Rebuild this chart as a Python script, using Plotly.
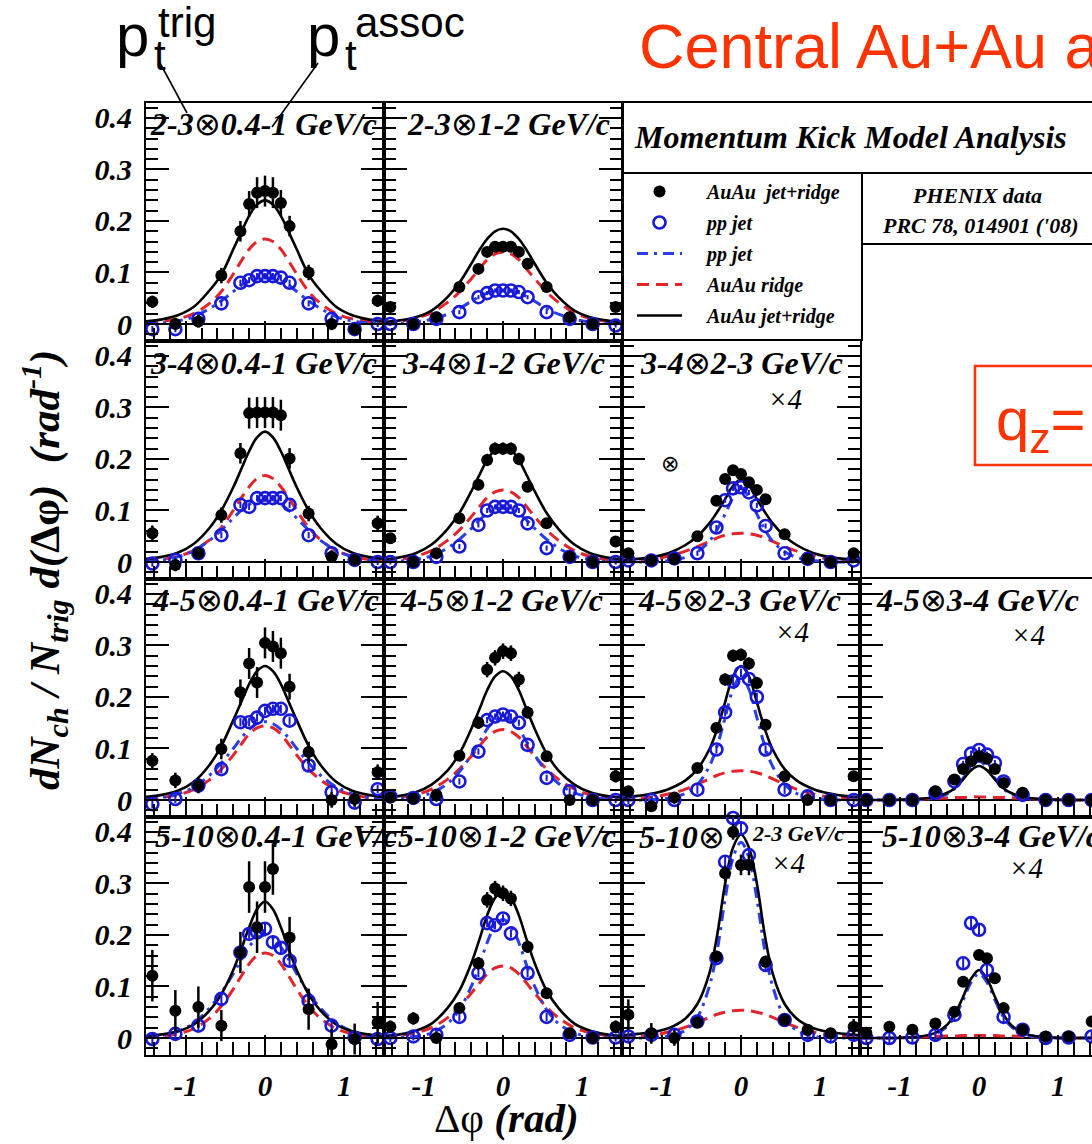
import plotly.graph_objects as go
from plotly.subplots import make_subplots

# ---------------- data ----------------
# delta-phi positions of the PHENIX points (rad)
DPHI_DATA = [-1.42, -1.13, -0.84, -0.55, -0.31, -0.2, -0.1, 0.0, 0.1, 0.2, 0.31, 0.55, 0.84, 1.13, 1.42]
# delta-phi positions where the model curves are sampled (rad)
DPHI_CURVE = [-1.5, -1.3, -1.1, -0.9, -0.7, -0.55, -0.4, -0.3, -0.2, -0.1, 0.0,
              0.1, 0.2, 0.3, 0.4, 0.55, 0.7, 0.9, 1.1, 1.3, 1.5]

OTIMES = "<span style=\"font-weight:normal;font-style:normal\">⊗</span>"
PANEL_LABELS = ["2-3{o}0.4-1 GeV/c", "2-3{o}1-2 GeV/c",
                "3-4{o}0.4-1 GeV/c", "3-4{o}1-2 GeV/c", "3-4{o}2-3 GeV/c",
                "4-5{o}0.4-1 GeV/c", "4-5{o}1-2 GeV/c", "4-5{o}2-3 GeV/c", "4-5{o}3-4 GeV/c",
                "5-10{o}0.4-1 GeV/c", "5-10{o}1-2 GeV/c", "5-10{o}", "5-10{o}3-4 GeV/c"]
SCALED_X4 = [False, False, False, False, True, False, False, True, True, False, False, True, True]

# AuAu jet+ridge data (black points) and errors
AUAU_1 = [0.043, 0.0, 0.005, 0.094, 0.18, 0.233, 0.255, 0.258, 0.255, 0.235, 0.19, 0.10, 0.0, -0.01, 0.045]
AUAU_2 = [0.033, 0.0, 0.013, 0.072, 0.107, 0.14, 0.15, 0.15, 0.15, 0.14, 0.117, 0.072, 0.013, 0.0, 0.033]
AUAU_3 = [0.056, -0.006, 0.017, 0.091, 0.211, 0.289, 0.29, 0.29, 0.29, 0.285, 0.201, 0.094, 0.01, 0.004, 0.075]
AUAU_4 = [0.046, 0.0, 0.017, 0.085, 0.15, 0.198, 0.22, 0.22, 0.22, 0.2, 0.146, 0.075, 0.01, 0.0, 0.04]
AUAU_5 = [0.017, 0.003, 0.006, 0.05, 0.119, 0.161, 0.178, 0.171, 0.155, 0.14, 0.122, 0.054, 0.006, 0.0, 0.017]
AUAU_6 = [0.076, 0.038, 0.028, 0.099, 0.209, 0.265, 0.228, 0.305, 0.298, 0.285, 0.22, 0.093, 0.0, 0.002, 0.054]
AUAU_7 = [0.005, 0.003, 0.01, 0.086, 0.15, 0.253, 0.276, 0.289, 0.285, 0.234, 0.17, 0.085, 0.0, 0.0, 0.046]
AUAU_8 = [0.017, -0.012, 0.005, 0.062, 0.14, 0.234, 0.28, 0.282, 0.265, 0.227, 0.146, 0.046, 0.0, 0.0, 0.046]
AUAU_9 = [0.0, 0.0, 0.0, 0.017, 0.04, 0.06, 0.075, 0.085, 0.08, 0.06, 0.033, 0.014, 0.0, 0.0, 0.0]
AUAU_10 = [0.121, 0.053, 0.06, 0.024, 0.166, 0.293, 0.215, 0.293, 0.328, None, 0.195, 0.056, -0.012, -0.002, 0.03]
AUAU_11 = [0.022, 0.038, 0.0, 0.058, 0.145, 0.268, 0.29, 0.281, 0.271, None, 0.177, 0.087, 0.009, 0.0, 0.022]
AUAU_12 = [0.045, 0.009, 0.0, 0.03, 0.158, 0.32, 0.4, 0.336, 0.336, None, 0.148, 0.035, 0.016, 0.009, 0.022]
AUAU_13 = [0.01, 0.022, 0.016, 0.028, 0.051, 0.109, None, 0.161, 0.155, 0.116, 0.058, 0.016, 0.003, 0.003, 0.032]

AUAU_ERR_1 = [0.012, 0.01, 0.012, 0.015, 0.02, 0.025, 0.03, 0.03, 0.03, 0.025, 0.02, 0.015, 0.012, 0.01, 0.012]
AUAU_ERR_2 = [0.008, 0.006, 0.006, 0.008, 0.008, 0.01, 0.01, 0.01, 0.01, 0.01, 0.008, 0.008, 0.006, 0.006, 0.008]
AUAU_ERR_3 = [0.015, 0.012, 0.012, 0.015, 0.02, 0.03, 0.03, 0.03, 0.03, 0.03, 0.02, 0.015, 0.012, 0.012, 0.015]
AUAU_ERR_4 = [0.01, 0.006, 0.006, 0.008, 0.01, 0.012, 0.012, 0.012, 0.012, 0.012, 0.01, 0.008, 0.006, 0.006, 0.01]
AUAU_ERR_5 = [0.006, 0.004, 0.004, 0.005, 0.006, 0.008, 0.008, 0.008, 0.008, 0.008, 0.006, 0.005, 0.004, 0.004, 0.006]
AUAU_ERR_6 = [0.015, 0.015, 0.015, 0.02, 0.025, 0.03, 0.03, 0.03, 0.03, 0.03, 0.025, 0.02, 0.015, 0.015, 0.015]
AUAU_ERR_7 = [0.01, 0.008, 0.008, 0.01, 0.012, 0.015, 0.015, 0.015, 0.015, 0.015, 0.012, 0.01, 0.008, 0.008, 0.012]
AUAU_ERR_8 = [0.008, 0.008, 0.006, 0.008, 0.01, 0.012, 0.012, 0.012, 0.012, 0.012, 0.01, 0.008, 0.006, 0.008, 0.01]
AUAU_ERR_9 = [0.004, 0.004, 0.004, 0.004, 0.005, 0.006, 0.006, 0.006, 0.006, 0.006, 0.005, 0.004, 0.004, 0.004, 0.004]
AUAU_ERR_10 = [0.05, 0.04, 0.04, 0.03, 0.04, 0.05, 0.05, 0.05, 0.05, 0.05, 0.04, 0.04, 0.03, 0.03, 0.04]
AUAU_ERR_11 = [0.012, 0.012, 0.01, 0.01, 0.012, 0.015, 0.015, 0.015, 0.015, 0.015, 0.012, 0.01, 0.01, 0.01, 0.012]
AUAU_ERR_12 = [0.03, 0.02, 0.015, 0.01, 0.01, 0.015, 0.015, 0.02, 0.02, 0.02, 0.01, 0.01, 0.01, 0.01, 0.015]
AUAU_ERR_13 = [0.008, 0.008, 0.006, 0.006, 0.006, 0.008, 0.008, 0.008, 0.008, 0.008, 0.006, 0.006, 0.006, 0.006, 0.008]

# pp jet data (blue open circles)
PP_1 = [-0.01, -0.01, 0.01, 0.04, 0.08, 0.085, 0.093, 0.093, 0.093, 0.09, 0.08, 0.04, 0.01, -0.01, 0.0]
PP_2 = [0.0, 0.0, 0.01, 0.023, 0.052, 0.06, 0.065, 0.065, 0.065, 0.062, 0.052, 0.023, 0.01, 0.0, -0.003]
PP_3 = [-0.003, 0.004, 0.017, 0.052, 0.111, 0.107, 0.124, 0.124, 0.124, 0.124, 0.111, 0.052, 0.017, 0.004, 0.0]
PP_4 = [0.0, 0.0, 0.01, 0.03, 0.072, 0.1, 0.107, 0.107, 0.107, 0.1, 0.075, 0.027, 0.01, 0.0, 0.0]
PP_5 = [0.003, 0.003, 0.007, 0.017, 0.067, 0.12, 0.143, 0.145, 0.135, 0.11, 0.07, 0.017, 0.006, 0.0, 0.003]
PP_6 = [-0.008, 0.002, 0.028, 0.06, 0.151, 0.151, 0.16, 0.173, 0.177, 0.177, 0.154, 0.067, 0.015, -0.005, 0.021]
PP_7 = [0.007, 0.004, 0.002, 0.036, 0.094, 0.155, 0.162, 0.166, 0.162, 0.15, 0.107, 0.043, 0.017, 0.0, 0.0]
PP_8 = [0.0, 0.0, 0.0, 0.02, 0.098, 0.17, 0.23, 0.247, 0.235, 0.2, 0.098, 0.02, 0.007, 0.0, 0.0]
PP_9 = [0.0, 0.0, 0.0, 0.014, 0.036, 0.07, 0.09, 0.097, 0.088, 0.072, 0.036, 0.01, 0.0, 0.0, 0.0]
PP_10 = [-0.002, 0.008, 0.024, 0.076, 0.166, 0.202, 0.205, 0.212, 0.186, 0.175, 0.15, 0.072, 0.024, 0.001, -0.002]
PP_11 = [0.0, 0.003, 0.006, 0.041, 0.126, 0.223, 0.219, 0.232, 0.203, None, 0.126, 0.041, 0.006, 0.001, 0.001]
PP_12 = [0.003, 0.006, 0.006, 0.032, 0.155, 0.342, 0.427, 0.407, 0.355, None, 0.142, 0.035, 0.006, 0.003, 0.006]
PP_13 = [0.0, 0.0, 0.001, 0.006, 0.045, 0.145, 0.223, 0.21, 0.132, None, 0.041, 0.016, 0.0, 0.001, 0.003]
PP_ERR = [0.006, 0.004, 0.006, 0.005, 0.005, 0.008, 0.006, 0.008, 0.006, 0.01, 0.008, 0.012, 0.01]

# model curves: AuAu jet+ridge (black), AuAu ridge (red), pp jet (blue)
JR_1 = [0.005, 0.009, 0.017, 0.033, 0.065, 0.096, 0.145, 0.178, 0.21, 0.232, 0.24, 0.232, 0.21, 0.178, 0.145, 0.096, 0.065, 0.033, 0.017, 0.009, 0.005]
RIDGE_1 = [0.002, 0.005, 0.01, 0.02, 0.04, 0.063, 0.097, 0.122, 0.145, 0.16, 0.165, 0.16, 0.145, 0.122, 0.097, 0.063, 0.04, 0.02, 0.01, 0.005, 0.002]
JET_1 = [0.0, 0.002, 0.006, 0.014, 0.03, 0.045, 0.063, 0.075, 0.083, 0.088, 0.09, 0.088, 0.083, 0.075, 0.063, 0.045, 0.03, 0.014, 0.006, 0.002, 0.0]

JR_2 = [0.004, 0.007, 0.013, 0.026, 0.052, 0.08, 0.117, 0.143, 0.165, 0.18, 0.185, 0.18, 0.165, 0.143, 0.117, 0.08, 0.052, 0.026, 0.013, 0.007, 0.004]
RIDGE_2 = [0.002, 0.005, 0.011, 0.022, 0.042, 0.062, 0.088, 0.106, 0.125, 0.136, 0.14, 0.136, 0.125, 0.106, 0.088, 0.062, 0.042, 0.022, 0.011, 0.005, 0.002]
JET_2 = [0.0, 0.001, 0.004, 0.009, 0.019, 0.03, 0.044, 0.053, 0.06, 0.064, 0.065, 0.064, 0.06, 0.053, 0.044, 0.03, 0.019, 0.009, 0.004, 0.001, 0.0]

JR_3 = [0.006, 0.01, 0.018, 0.035, 0.066, 0.1, 0.145, 0.18, 0.215, 0.242, 0.253, 0.242, 0.215, 0.18, 0.145, 0.1, 0.066, 0.035, 0.018, 0.01, 0.006]
RIDGE_3 = [0.002, 0.005, 0.011, 0.022, 0.043, 0.067, 0.1, 0.124, 0.146, 0.162, 0.168, 0.162, 0.146, 0.124, 0.1, 0.067, 0.043, 0.022, 0.011, 0.005, 0.002]
JET_3 = [0.002, 0.004, 0.01, 0.022, 0.042, 0.062, 0.085, 0.1, 0.112, 0.118, 0.12, 0.118, 0.112, 0.1, 0.085, 0.062, 0.042, 0.022, 0.01, 0.004, 0.002]

JR_4 = [0.005, 0.009, 0.017, 0.034, 0.064, 0.095, 0.137, 0.168, 0.198, 0.218, 0.225, 0.218, 0.198, 0.168, 0.137, 0.095, 0.064, 0.034, 0.017, 0.009, 0.005]
RIDGE_4 = [0.002, 0.005, 0.011, 0.022, 0.042, 0.062, 0.088, 0.107, 0.125, 0.136, 0.14, 0.136, 0.125, 0.107, 0.088, 0.062, 0.042, 0.022, 0.011, 0.005, 0.002]
JET_4 = [0.0, 0.002, 0.005, 0.012, 0.027, 0.044, 0.065, 0.081, 0.094, 0.102, 0.105, 0.102, 0.094, 0.081, 0.065, 0.044, 0.027, 0.012, 0.005, 0.002, 0.0]

JR_5 = [0.004, 0.006, 0.01, 0.018, 0.033, 0.05, 0.075, 0.097, 0.122, 0.148, 0.16, 0.148, 0.122, 0.097, 0.075, 0.05, 0.033, 0.018, 0.01, 0.006, 0.004]
RIDGE_5 = [0.001, 0.003, 0.006, 0.012, 0.021, 0.03, 0.04, 0.047, 0.052, 0.055, 0.056, 0.055, 0.052, 0.047, 0.04, 0.03, 0.021, 0.012, 0.006, 0.003, 0.001]
JET_5 = [0.0, 0.0, 0.001, 0.003, 0.009, 0.02, 0.04, 0.063, 0.093, 0.125, 0.145, 0.125, 0.093, 0.063, 0.04, 0.02, 0.009, 0.003, 0.001, 0.0, 0.0]

JR_6 = [0.006, 0.01, 0.018, 0.035, 0.068, 0.105, 0.155, 0.19, 0.225, 0.25, 0.26, 0.25, 0.225, 0.19, 0.155, 0.105, 0.068, 0.035, 0.018, 0.01, 0.006]
RIDGE_6 = [0.002, 0.005, 0.01, 0.02, 0.039, 0.06, 0.087, 0.108, 0.128, 0.14, 0.144, 0.14, 0.128, 0.108, 0.087, 0.06, 0.039, 0.02, 0.01, 0.005, 0.002]
JET_6 = [0.002, 0.005, 0.012, 0.025, 0.048, 0.072, 0.1, 0.12, 0.137, 0.148, 0.152, 0.148, 0.137, 0.12, 0.1, 0.072, 0.048, 0.025, 0.012, 0.005, 0.002]

JR_7 = [0.005, 0.008, 0.015, 0.03, 0.057, 0.09, 0.138, 0.175, 0.213, 0.24, 0.25, 0.24, 0.213, 0.175, 0.138, 0.09, 0.057, 0.03, 0.015, 0.008, 0.005]
RIDGE_7 = [0.002, 0.005, 0.01, 0.021, 0.04, 0.06, 0.085, 0.104, 0.122, 0.133, 0.137, 0.133, 0.122, 0.104, 0.085, 0.06, 0.04, 0.021, 0.01, 0.005, 0.002]
JET_7 = [0.0, 0.002, 0.006, 0.014, 0.032, 0.055, 0.087, 0.112, 0.138, 0.155, 0.16, 0.155, 0.138, 0.112, 0.087, 0.055, 0.032, 0.014, 0.006, 0.002, 0.0]

JR_8 = [0.005, 0.008, 0.013, 0.022, 0.038, 0.06, 0.098, 0.138, 0.19, 0.24, 0.26, 0.24, 0.19, 0.138, 0.098, 0.06, 0.038, 0.022, 0.013, 0.008, 0.005]
RIDGE_8 = [0.001, 0.003, 0.006, 0.012, 0.021, 0.031, 0.041, 0.048, 0.053, 0.056, 0.057, 0.056, 0.053, 0.048, 0.041, 0.031, 0.021, 0.012, 0.006, 0.003, 0.001]
JET_8 = [0.0, 0.0, 0.001, 0.004, 0.013, 0.03, 0.065, 0.105, 0.16, 0.215, 0.24, 0.215, 0.16, 0.105, 0.065, 0.03, 0.013, 0.004, 0.001, 0.0, 0.0]

JR_9 = [0.0, 0.0, 0.0, 0.001, 0.003, 0.006, 0.014, 0.024, 0.04, 0.058, 0.066, 0.058, 0.04, 0.024, 0.014, 0.006, 0.003, 0.001, 0.0, 0.0, 0.0]
RIDGE_9 = [0.0, 0.0, 0.0, 0.001, 0.002, 0.003, 0.004, 0.005, 0.005, 0.006, 0.006, 0.006, 0.005, 0.005, 0.004, 0.003, 0.002, 0.001, 0.0, 0.0, 0.0]
JET_9 = [0.0, 0.0, 0.0, 0.0, 0.001, 0.004, 0.012, 0.023, 0.042, 0.064, 0.075, 0.064, 0.042, 0.023, 0.012, 0.004, 0.001, 0.0, 0.0, 0.0, 0.0]

JR_10 = [0.004, 0.007, 0.013, 0.026, 0.053, 0.085, 0.132, 0.172, 0.215, 0.25, 0.265, 0.25, 0.215, 0.172, 0.132, 0.085, 0.053, 0.026, 0.013, 0.007, 0.004]
RIDGE_10 = [0.001, 0.004, 0.008, 0.018, 0.038, 0.062, 0.095, 0.12, 0.144, 0.16, 0.165, 0.16, 0.144, 0.12, 0.095, 0.062, 0.038, 0.018, 0.008, 0.004, 0.001]
JET_10 = [0.002, 0.005, 0.013, 0.029, 0.058, 0.088, 0.125, 0.152, 0.177, 0.194, 0.2, 0.194, 0.177, 0.152, 0.125, 0.088, 0.058, 0.029, 0.013, 0.005, 0.002]

JR_11 = [0.004, 0.007, 0.014, 0.028, 0.058, 0.092, 0.145, 0.19, 0.238, 0.272, 0.285, 0.272, 0.238, 0.19, 0.145, 0.092, 0.058, 0.028, 0.014, 0.007, 0.004]
RIDGE_11 = [0.002, 0.005, 0.01, 0.02, 0.039, 0.06, 0.087, 0.106, 0.124, 0.136, 0.14, 0.136, 0.124, 0.106, 0.087, 0.06, 0.039, 0.02, 0.01, 0.005, 0.002]
JET_11 = [0.0, 0.001, 0.003, 0.01, 0.028, 0.055, 0.1, 0.14, 0.185, 0.218, 0.23, 0.218, 0.185, 0.14, 0.1, 0.055, 0.028, 0.01, 0.003, 0.001, 0.0]

JR_12 = [0.005, 0.008, 0.012, 0.02, 0.038, 0.066, 0.125, 0.2, 0.3, 0.37, 0.395, 0.37, 0.3, 0.2, 0.125, 0.066, 0.038, 0.02, 0.012, 0.008, 0.005]
RIDGE_12 = [0.001, 0.003, 0.006, 0.012, 0.021, 0.03, 0.04, 0.046, 0.05, 0.053, 0.054, 0.053, 0.05, 0.046, 0.04, 0.03, 0.021, 0.012, 0.006, 0.003, 0.001]
JET_12 = [0.0, 0.0, 0.001, 0.004, 0.015, 0.04, 0.1, 0.17, 0.27, 0.35, 0.38, 0.35, 0.27, 0.17, 0.1, 0.04, 0.015, 0.004, 0.001, 0.0, 0.0]

JR_13 = [0.0, 0.0, 0.0, 0.001, 0.004, 0.01, 0.026, 0.048, 0.08, 0.115, 0.132, 0.115, 0.08, 0.048, 0.026, 0.01, 0.004, 0.001, 0.0, 0.0, 0.0]
RIDGE_13 = [0.0, 0.0, 0.0, 0.001, 0.002, 0.003, 0.004, 0.004, 0.005, 0.005, 0.005, 0.005, 0.005, 0.004, 0.004, 0.003, 0.002, 0.001, 0.0, 0.0, 0.0]
JET_13 = [0.0, 0.0, 0.0, 0.001, 0.003, 0.008, 0.023, 0.043, 0.074, 0.108, 0.125, 0.108, 0.074, 0.043, 0.023, 0.008, 0.003, 0.001, 0.0, 0.0, 0.0]

Y_TICKS = [0, 0.1, 0.2, 0.3, 0.4]
Y_TICK_TEXT = ["0", "0.1", "0.2", "0.3", "0.4"]
X_TICKS = [-1, 0, 1]
X_TICK_TEXT = ["-1", "0", "1"]

AUAU = [AUAU_1, AUAU_2, AUAU_3, AUAU_4, AUAU_5, AUAU_6, AUAU_7, AUAU_8, AUAU_9, AUAU_10, AUAU_11, AUAU_12, AUAU_13]
AUAU_ERR = [AUAU_ERR_1, AUAU_ERR_2, AUAU_ERR_3, AUAU_ERR_4, AUAU_ERR_5, AUAU_ERR_6, AUAU_ERR_7,
            AUAU_ERR_8, AUAU_ERR_9, AUAU_ERR_10, AUAU_ERR_11, AUAU_ERR_12, AUAU_ERR_13]
PP = [PP_1, PP_2, PP_3, PP_4, PP_5, PP_6, PP_7, PP_8, PP_9, PP_10, PP_11, PP_12, PP_13]
JR = [JR_1, JR_2, JR_3, JR_4, JR_5, JR_6, JR_7, JR_8, JR_9, JR_10, JR_11, JR_12, JR_13]
RIDGE = [RIDGE_1, RIDGE_2, RIDGE_3, RIDGE_4, RIDGE_5, RIDGE_6, RIDGE_7, RIDGE_8, RIDGE_9, RIDGE_10, RIDGE_11, RIDGE_12, RIDGE_13]
JET = [JET_1, JET_2, JET_3, JET_4, JET_5, JET_6, JET_7, JET_8, JET_9, JET_10, JET_11, JET_12, JET_13]

# ---------------- layout helpers ----------------
W, H = 1092, 1144
L, T, B = 146, 103, 89
PW, PH = W - L, H - T - B   # 946 x 952

def px(x):
    return (x - L) / PW

def py(y):
    return (H - B - y) / PH

POS = [(1, 1), (1, 2), (2, 1), (2, 2), (2, 3), (3, 1), (3, 2), (3, 3), (3, 4), (4, 1), (4, 2), (4, 3), (4, 4)]
LABEL_PX = [(148, 124), (405, 124), (148, 363), (400, 363), (638, 363), (150, 600), (398, 600), (636, 600),
            (874, 600), (153, 836), (396, 836), (637, 837), (880, 836)]
X4_PX = {4: (785, 399), 7: (792, 632), 8: (1028, 635), 11: (788, 863), 12: (1026, 868)}

SERIF = "Liberation Serif, Times New Roman, serif"
SANS = "Liberation Sans, Arial, sans-serif"
RED = "#e3242b"
BLUE = "#1818d8"
BLUE_LINE = "#2a3ee6"
ORANGE_RED = "#ff3300"
NB = "\u00a0"

fig = make_subplots(rows=4, cols=4, column_widths=[238, 238, 238, 232], row_heights=[238] * 4,
                    horizontal_spacing=0, vertical_spacing=0,
                    specs=[[{}, {}, None, None], [{}, {}, {}, None], [{}, {}, {}, {}], [{}, {}, {}, {}]])

for i, (r, c) in enumerate(POS):
    leg = (i == 0)
    fig.add_trace(go.Scatter(x=DPHI_CURVE, y=RIDGE[i], mode="lines", name=NB * 4 + "AuAu ridge",
                             line=dict(color=RED, width=3, dash="12px,7px", shape="spline"),
                             showlegend=leg, legendgroup="g4", legendrank=4, hoverinfo="skip"), row=r, col=c)
    fig.add_trace(go.Scatter(x=DPHI_CURVE, y=JET[i], mode="lines", name=NB * 4 + "pp jet",
                             line=dict(color=BLUE_LINE, width=3, dash="11px,6px,3px,6px", shape="spline"),
                             showlegend=leg, legendgroup="g3", legendrank=3, hoverinfo="skip"), row=r, col=c)
    fig.add_trace(go.Scatter(x=DPHI_CURVE, y=JR[i], mode="lines", name=NB * 4 + "AuAu jet+ridge",
                             line=dict(color="black", width=2.6, shape="spline"),
                             showlegend=leg, legendgroup="g5", legendrank=5, hoverinfo="skip"), row=r, col=c)
    fig.add_trace(go.Scatter(x=DPHI_DATA, y=PP[i], mode="markers", name=NB * 4 + "pp jet",
                             marker=dict(symbol="circle-open", size=12, color=BLUE, line=dict(width=2.6, color=BLUE)),
                             error_y=dict(type="constant", value=PP_ERR[i], thickness=2, width=0, color=BLUE),
                             cliponaxis=False,
                             showlegend=leg, legendgroup="g2", legendrank=2), row=r, col=c)
    fig.add_trace(go.Scatter(x=DPHI_DATA, y=AUAU[i], mode="markers", name=NB * 4 + "AuAu" + NB * 2 + "jet+ridge",
                             marker=dict(symbol="circle", size=12, color="black"),
                             error_y=dict(type="data", array=AUAU_ERR[i], thickness=2.5, width=0, color="black"),
                             cliponaxis=False,
                             showlegend=leg, legendgroup="g1", legendrank=1), row=r, col=c)

    xr = [-1.5, 1.5] if c < 4 else [-1.5, 1.424]
    fig.update_xaxes(row=r, col=c, range=xr, tickmode="array", tickvals=X_TICKS, ticktext=X_TICK_TEXT,
                     ticks="inside", ticklen=20, tickwidth=2, tickcolor="black",
                     minor=dict(dtick=0.2, tick0=0, ticks="inside", ticklen=13, tickwidth=2, tickcolor="black"),
                     showline=True, linewidth=2, linecolor="black", mirror=True,
                     showgrid=False, zeroline=False, showticklabels=(r == 4), ticklabelstandoff=4,
                     tickfont=dict(family=SERIF, size=29, color="black", weight="bold", style="italic"))
    fig.update_yaxes(row=r, col=c, range=[-0.033, 0.429], tickmode="array", tickvals=Y_TICKS, ticktext=Y_TICK_TEXT,
                     ticks="inside", ticklen=23, tickwidth=2, tickcolor="black",
                     minor=dict(dtick=0.02, tick0=0, ticks="inside", ticklen=12, tickwidth=2, tickcolor="black"),
                     showline=True, linewidth=2, linecolor="black",
                     mirror=("allticks" if c < 4 else False),
                     showgrid=False, zeroline=True, zerolinecolor="black", zerolinewidth=2,
                     showticklabels=(c == 1), ticklabelstandoff=6,
                     tickfont=dict(family=SERIF, size=30, color="black", weight="bold", style="italic"))

annotations = []
LBL_FONT = dict(family=SERIF, size=32, color="black", weight="bold", style="italic")
for i, (lx, ly) in enumerate(LABEL_PX):
    annotations.append(dict(x=px(lx), y=py(ly), xref="paper", yref="paper",
                            text=PANEL_LABELS[i].format(o=OTIMES),
                            showarrow=False, xanchor="left", yanchor="middle", font=LBL_FONT))
annotations.append(dict(x=px(750), y=py(833), xref="paper", yref="paper", text="2-3 GeV/c",
                        showarrow=False, xanchor="left", yanchor="middle",
                        font=dict(family=SERIF, size=22, color="black", weight="bold", style="italic")))
for i, flag in enumerate(SCALED_X4):
    if flag:
        xx, yy = X4_PX[i]
        annotations.append(dict(x=px(xx), y=py(yy), xref="paper", yref="paper", text="×4", showarrow=False,
                                xanchor="center", yanchor="middle",
                                font=dict(family=SERIF, size=29, color="black", style="italic")))
annotations.append(dict(x=px(670), y=py(463), xref="paper", yref="paper", text="⊗", showarrow=False,
                        xanchor="center", yanchor="middle", font=dict(family="DejaVu Sans", size=22, color="black")))
annotations.append(dict(x=px(850), y=py(137), xref="paper", yref="paper", text="Momentum Kick Model Analysis",
                        showarrow=False, xanchor="center", yanchor="middle",
                        font=dict(family=SERIF, size=32, color="black", weight="bold", style="italic")))
annotations.append(dict(x=px(977), y=py(195), xref="paper", yref="paper", text="PHENIX data",
                        showarrow=False, xanchor="center", yanchor="middle",
                        font=dict(family=SERIF, size=22, color="black", weight="bold", style="italic")))
annotations.append(dict(x=px(980), y=py(225), xref="paper", yref="paper", text="PRC 78, 014901 ('08)",
                        showarrow=False, xanchor="center", yanchor="middle",
                        font=dict(family=SERIF, size=22, color="black", weight="bold", style="italic")))
annotations.append(dict(x=px(994), y=py(424), xref="paper", yref="paper", text="q<sub>z</sub>=",
                        showarrow=False, xanchor="left", yanchor="middle",
                        font=dict(family=SANS, size=60, color=ORANGE_RED)))
annotations.append(dict(x=px(637), y=py(46), xref="paper", yref="paper", text="Central Au+Au a",
                        showarrow=False, xanchor="left", yanchor="middle",
                        font=dict(family=SANS, size=63, color=ORANGE_RED)))
# pt trig / pt assoc
for (xp, xt, xs, sup) in [(114, 152, 156, "trig"), (305, 343, 353, "assoc")]:
    annotations.append(dict(x=px(xp), y=py(35), xref="paper", yref="paper", text="p", showarrow=False,
                            xanchor="left", yanchor="middle", font=dict(family=SANS, size=60, color="black")))
    annotations.append(dict(x=px(xt), y=py(56), xref="paper", yref="paper", text="t", showarrow=False,
                            xanchor="left", yanchor="middle", font=dict(family=SANS, size=42, color="black")))
    annotations.append(dict(x=px(xs), y=py(22), xref="paper", yref="paper", text=sup, showarrow=False,
                            xanchor="left", yanchor="middle", font=dict(family=SANS, size=42, color="black")))
annotations.append(dict(x=px(44), y=py(570), xref="paper", yref="paper", textangle=-90,
                        text="dN<sub>ch</sub> / N<sub>trig</sub> d(<span style=\"font-style:normal\">Δφ</span>)" + NB + " (rad<sup>-1</sup>)",
                        showarrow=False, xanchor="center", yanchor="middle",
                        font=dict(family=SERIF, size=43, color="black", weight="bold", style="italic")))
annotations.append(dict(x=px(506), y=py(1118), xref="paper", yref="paper",
                        text="<span style=\"font-style:normal;font-weight:normal\">Δφ</span> (rad)",
                        showarrow=False, xanchor="center", yanchor="middle",
                        font=dict(family=SERIF, size=41, color="black", weight="bold", style="italic")))

shapes = []
def rect(x0, y0, x1, y1, color="black", width=2):
    return dict(type="rect", xref="paper", yref="paper", x0=px(x0), x1=px(x1), y0=py(y0), y1=py(y1),
                line=dict(color=color, width=width), fillcolor="rgba(0,0,0,0)")
def seg(x0, y0, x1, y1, width=1.6):
    return dict(type="line", xref="paper", yref="paper", x0=px(x0), x1=px(x1), y0=py(y0), y1=py(y1),
                line=dict(color="black", width=width))
shapes.append(rect(622, 102, 1100, 173))
shapes.append(rect(622, 173, 862, 340))
shapes.append(rect(862, 173, 1100, 244))
shapes.append(rect(975, 366, 1100, 465, color=ORANGE_RED, width=2.5))
shapes.append(seg(160, 63, 187, 113))
shapes.append(seg(318, 63, 272, 127))

fig.update_layout(width=W, height=H, margin=dict(l=L, r=0, t=T, b=B, pad=0),
                  paper_bgcolor="white", plot_bgcolor="white",
                  annotations=annotations, shapes=shapes, showlegend=True,
                  legend=dict(x=px(632), y=py(172), xanchor="left", yanchor="top",
                              bgcolor="rgba(0,0,0,0)", borderwidth=0, traceorder="grouped",
                              tracegroupgap=2, itemwidth=45,
                              font=dict(family=SERIF, size=20, color="black", weight="bold", style="italic")))

fig.write_html("out.html", config={"displayModeBar": False},
               post_script="document.body.style.margin='0px';")
